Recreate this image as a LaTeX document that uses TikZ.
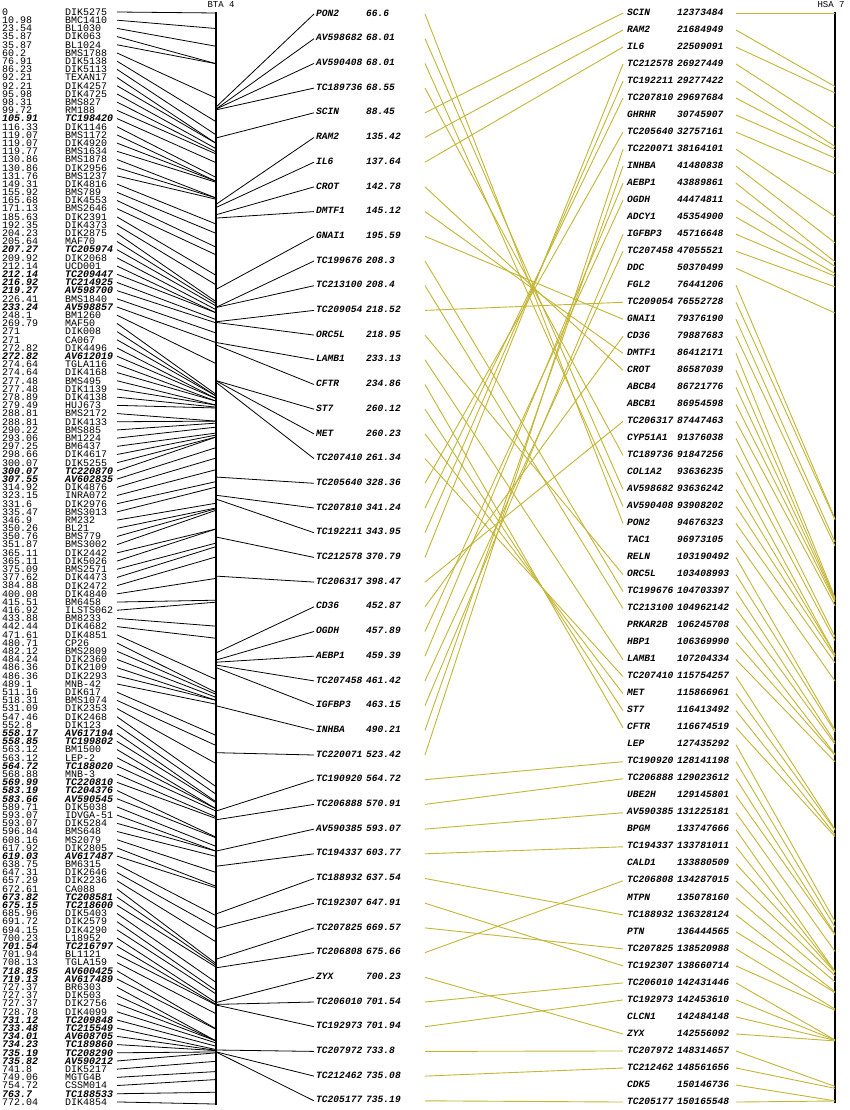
\documentclass[tikz,border=0pt]{standalone}
\usepackage{fontspec}
\setmonofont{Liberation Mono}
\usepackage{xfp}
\usetikzlibrary{positioning}
\definecolor{synteny}{RGB}{196,182,52}
\tikzset{
  mapline/.style={black, line width=0.8pt},
  synline/.style={synteny, line width=0.9pt},
  chrom/.style={black, line width=2pt},
  leftlabel/.style={anchor=west, inner sep=0pt, font=\ttfamily\fontsize{10}{10}\selectfont},
  genelabel/.style={anchor=west, inner sep=0pt, font=\ttfamily\bfseries\itshape\fontsize{9.6}{9.6}\selectfont},
  chromtitle/.style={inner sep=0pt, font=\ttfamily\fontsize{9}{9}\selectfont}
}

\begin{document}
\begin{tikzpicture}[x=1pt, y=-1pt]
				\useasboundingbox[fill=white] (0,0) rectangle (850,1110);
				% Chromosome axes
				\node[chromtitle] (bta) at (221,5) {BTA 4};
				\node[chromtitle] (hsa) at (831,5) {HSA 7};
				\coordinate (btatop) at (216,12);
				\coordinate (btabot) at (216,1105);
				\coordinate (hsatop) at (835,12);
				\coordinate (hsabot) at (835,1103);
				\draw[chrom] (btatop) -- (btabot);
				\draw[chrom] (hsatop) -- (hsabot);
				% BTA 4 markers (cM / name / EST flag)
				\foreach [count=\i] \cm/\nm/\flag in {0/DIK5275/0, 10.98/BMC1410/0, 23.54/BL1030/0, 35.87/DIK063/0, 35.87/BL1024/0,
						60.2/BMS1788/0, 76.91/DIK5138/0, 86.23/DIK5113/0, 92.21/TEXAN17/0, 92.21/DIK4257/0,
						95.98/DIK4725/0, 98.31/BMS827/0, 99.72/RM188/0, 105.91/TC198420/1, 116.33/DIK1146/0,
						119.07/BMS1172/0, 119.07/DIK4920/0, 119.77/BMS1634/0, 130.86/BMS1878/0, 130.86/DIK2956/0,
						131.76/BMS1237/0, 149.31/DIK4816/0, 155.92/BMS789/0, 165.68/DIK4553/0, 171.13/BMS2646/0,
						185.63/DIK2391/0, 192.35/DIK4373/0, 204.23/DIK2875/0, 205.64/MAF70/0, 207.27/TC205974/1,
						209.92/DIK2068/0, 212.14/UCD001/0, 212.14/TC209447/1, 216.92/TC214925/1, 219.27/AV598700/1,
						226.41/BMS1840/0, 233.24/AV598857/1, 248.1/BM1260/0, 269.79/MAF50/0, 271/DIK008/0,
						271/CA067/0, 272.82/DIK4496/0, 272.82/AV612019/1, 274.64/TGLA116/0, 274.64/DIK4168/0,
						277.48/BMS495/0, 277.48/DIK1139/0, 278.89/DIK4138/0, 279.49/HUJ673/0, 288.81/BMS2172/0,
						288.81/DIK4133/0, 290.22/BMS885/0, 293.06/BM1224/0, 297.25/BM6437/0, 298.66/DIK4617/0,
						300.07/DIK5255/0, 300.07/TC220870/1, 307.55/AV602835/1, 314.92/DIK4876/0, 323.15/INRA072/0,
						331.6/DIK2976/0, 335.47/BMS3013/0, 346.9/RM232/0, 350.26/BL21/0, 350.76/BMS779/0,
						351.87/BMS3002/0, 365.11/DIK2442/0, 365.11/DIK5026/0, 375.09/BMS2571/0, 377.62/DIK4473/0,
						384.88/DIK2472/0, 400.08/DIK4840/0, 415.51/BM6458/0, 416.92/ILSTS062/0, 433.88/BM8233/0,
						442.44/DIK4682/0, 471.61/DIK4851/0, 480.71/CP26/0, 482.12/BMS2809/0, 484.24/DIK2360/0,
						486.36/DIK2109/0, 486.36/DIK2293/0, 489.1/MNB-42/0, 511.16/DIK617/0, 518.31/BMS1074/0,
						531.09/DIK2353/0, 547.46/DIK2468/0, 552.8/DIK123/0, 558.17/AV617194/1, 558.85/TC199802/1,
						563.12/BM1500/0, 563.12/LEP-2/0, 564.72/TC188020/1, 568.88/MNB-3/0, 569.99/TC220810/1,
						583.19/TC204376/1, 583.66/AV590545/1, 589.71/DIK5038/0, 593.07/IDVGA-51/0, 593.07/DIK5284/0,
						596.84/BMS648/0, 608.16/MS2079/0, 617.92/DIK2805/0, 619.03/AV617487/1, 638.75/BM6315/0,
						647.31/DIK2646/0, 657.29/DIK2236/0, 672.61/CA088/0, 673.82/TC208581/1, 675.15/TC218600/1,
						685.96/DIK5403/0, 691.72/DIK2579/0, 694.15/DIK4290/0, 700.23/L18952/0, 701.54/TC216797/1,
						701.94/BL1121/0, 708.13/TGLA159/0, 718.85/AV600425/1, 719.13/AV617489/1, 727.37/BR6303/0,
						727.37/DIK503/0, 727.37/DIK2756/0, 728.78/DIK4099/0, 731.12/TC209848/1, 733.48/TC215549/1,
						734.01/AV608705/1, 734.23/TC189860/1, 735.19/TC208290/1, 735.82/AV590212/1, 741.8/DIK5217/0,
						749.06/MGTG4B/0, 754.72/CSSM014/0, 763.7/TC188533/1, 772.04/DIK4854/0}{
					\pgfmathsetmacro\ly{12+(\i-1)*8.195}
					\pgfmathsetmacro\ay{13+\cm*1.41318}
					\node[leftlabel] (lpos\i) at (2,\ly) {\ifnum\flag=1 \bfseries\itshape\fi\cm};
					\node[leftlabel] (lname\i) at (65,\ly) {\ifnum\flag=1 \bfseries\itshape\fi\nm};
					\coordinate (ltip\i) at (117,\ly);
					\coordinate (lax\i) at (216,\ay);
					\draw[mapline] (ltip\i) -- (lax\i);
				}
				% Genes placed on BTA 4
				\foreach [count=\j] \gn/\cm in {PON2/66.6, AV598682/68.01, AV590408/68.01, TC189736/68.55, SCIN/88.45,
						RAM2/135.42, IL6/137.64, CROT/142.78, DMTF1/145.12, GNAI1/195.59,
						TC199676/208.3, TC213100/208.4, TC209054/218.52, ORC5L/218.95, LAMB1/233.13,
						CFTR/234.86, ST7/260.12, MET/260.23, TC207410/261.34, TC205640/328.36,
						TC207810/341.24, TC192211/343.95, TC212578/370.79, TC206317/398.47, CD36/452.87,
						OGDH/457.89, AEBP1/459.39, TC207458/461.42, IGFBP3/463.15, INHBA/490.21,
						TC220071/523.42, TC190920/564.72, TC206888/570.91, AV590385/593.07, TC194337/603.77,
						TC188932/637.54, TC192307/647.91, TC207825/669.57, TC206808/675.66, ZYX/700.23,
						TC206010/701.54, TC192973/701.94, TC207972/733.8, TC212462/735.08, TC205177/735.19}{
					\pgfmathsetmacro\my{13+(\j-1)*24.7}
					\pgfmathsetmacro\ay{13+\cm*1.41318}
					\node[genelabel] (m-\gn) at (316,\my) {\gn};
					\node[genelabel] (mpos-\gn) at (366,\my) {\cm};
					\coordinate (min-\gn) at (314,\my+1);
					\coordinate (mout-\gn) at (425,\my+1);
					\coordinate (max-\gn) at (216,\ay);
					\draw[mapline] (max-\gn) -- (min-\gn);
				}
				% Genes placed on HSA 7
				\foreach [count=\k] \gn/\bp in {SCIN/12373484, RAM2/21684949, IL6/22509091, TC212578/26927449, TC192211/29277422,
						TC207810/29697684, GHRHR/30745907, TC205640/32757161, TC220071/38164101, INHBA/41480838,
						AEBP1/43889861, OGDH/44474811, ADCY1/45354900, IGFBP3/45716648, TC207458/47055521,
						DDC/50370499, FGL2/76441206, TC209054/76552728, GNAI1/79376190, CD36/79887683,
						DMTF1/86412171, CROT/86587039, ABCB4/86721776, ABCB1/86954598, TC206317/87447463,
						CYP51A1/91376038, TC189736/91847256, COL1A2/93636235, AV598682/93636242, AV590408/93908202,
						PON2/94676323, TAC1/96973105, RELN/103190492, ORC5L/103408993, TC199676/104703397,
						TC213100/104962142, PRKAR2B/106245708, HBP1/106369990, LAMB1/107204334, TC207410/115754257,
						MET/115866961, ST7/116413492, CFTR/116674519, LEP/127435292, TC190920/128141198,
						TC206888/129023612, UBE2H/129145801, AV590385/131225181, BPGM/133747666, TC194337/133781011,
						CALD1/133880509, TC206808/134287015, MTPN/135078160, TC188932/136328124, PTN/136444565,
						TC207825/138520988, TC192307/138660714, TC206010/142431446, TC192973/142453610, CLCN1/142484148,
						ZYX/142556092, TC207972/148314657, TC212462/148561656, CDK5/150146736, TC205177/150165548}{
					\pgfmathsetmacro\hy{12+(\k-1)*17.016}
					\edef\ay{\fpeval{round(13+(\bp-12373484)*1088/137792064,2)}}
					\node[genelabel] (h-\gn) at (627,\hy) {\gn};
					\node[genelabel] (hpos-\gn) at (677,\hy) {\bp};
					\coordinate (hin-\gn) at (623,\hy+1);
					\coordinate (hout-\gn) at (736,\hy+1);
					\coordinate (hax-\gn) at (835,\ay);
					\draw[synline] (hout-\gn) -- (hax-\gn);
				}
				% Shared genes BTA 4 -- HSA 7
				\foreach \gn in {PON2, AV598682, AV590408, TC189736, SCIN, RAM2, IL6, CROT, DMTF1, GNAI1,
						TC199676, TC213100, TC209054, ORC5L, LAMB1, CFTR, ST7, MET, TC207410, TC205640,
						TC207810, TC192211, TC212578, TC206317, CD36, OGDH, AEBP1, TC207458, IGFBP3, INHBA,
						TC220071, TC190920, TC206888, AV590385, TC194337, TC188932, TC192307, TC207825, TC206808, ZYX,
						TC206010, TC192973, TC207972, TC212462, TC205177}
					\draw[synline] (mout-\gn) -- (hin-\gn);
			\end{tikzpicture}
\end{document}
